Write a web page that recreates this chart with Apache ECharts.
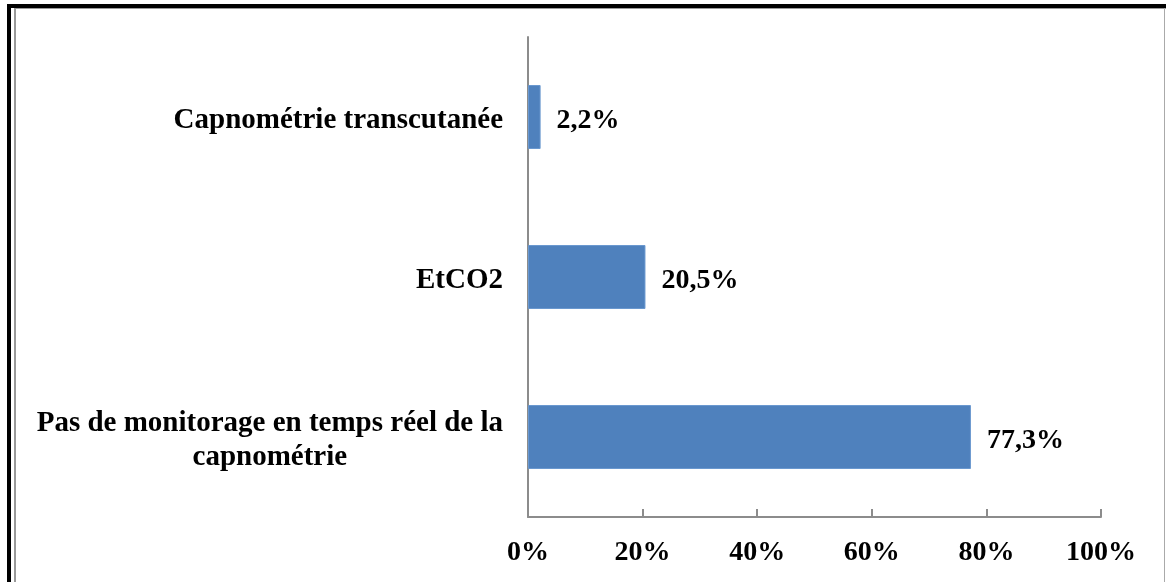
<!DOCTYPE html>
<html><head><meta charset="utf-8">
<script src="https://cdn.jsdelivr.net/npm/echarts@6/dist/echarts.min.js"></script>
<style>html,body{margin:0;padding:0;background:#fff}#c{width:1166px;height:582px}</style>
</head><body><div id="c"></div>
<script>
const categories = ['Pas de monitorage en temps réel de la\ncapnométrie', 'EtCO2', 'Capnométrie transcutanée'];
const values = [77.3, 20.5, 2.2];
const valueLabels = ['77,3%', '20,5%', '2,2%'];
const xTicks = [0, 20, 40, 60, 80, 100];

const chart = echarts.init(document.getElementById('c'), null, {renderer: 'canvas'});
const font = 'Liberation Serif';
chart.setOption({
  animation: false,
  backgroundColor: '#fff',
  grid: {left: 528, right: 65, top: 37, bottom: 65, containLabel: false},
  xAxis: {
    type: 'value', min: 0, max: 100, interval: 20,
    axisLine: {show: true, lineStyle: {color: '#8c8c8c', width: 2}},
    axisTick: {show: true, inside: true, length: 8, lineStyle: {color: '#8c8c8c', width: 2}},
    splitLine: {show: false},
    axisLabel: {formatter: v => xTicks.includes(v) ? v + '%' : '', fontFamily: font, fontWeight: 'bold', fontSize: 28, color: '#000', margin: 22}
  },
  yAxis: {
    type: 'category', data: categories,
    axisLine: {show: true, lineStyle: {color: '#8c8c8c', width: 2}},
    axisTick: {show: false},
    axisLabel: {fontFamily: font, fontWeight: 'bold', fontSize: 29, color: '#000', margin: 25, align: 'right',
      padding: [7, 0, 0, 0],
      formatter: v => v.split('\n').map(s => '{c|' + s + '}').join('\n'),
      rich: {c: {fontFamily: font, fontWeight: 'bold', fontSize: 29, color: '#000', align: 'center', lineHeight: 34}}}
  },
  series: [{
    type: 'bar', data: values, barWidth: 64,
    itemStyle: {color: '#4F81BD', borderColor: '#6a98cf', borderWidth: 1},
    label: {show: true, position: 'right', distance: 16, offset: [0, 4], formatter: p => valueLabels[p.dataIndex],
      fontFamily: font, fontWeight: 'bold', fontSize: 28, color: '#000'}
  }],
  graphic: [
    {type: 'rect', shape: {x: 7, y: 4, width: 1160, height: 4}, style: {fill: '#000'}, silent: true},
    {type: 'rect', shape: {x: 7, y: 4, width: 4, height: 580}, style: {fill: '#000'}, silent: true},
    {type: 'rect', shape: {x: 14, y: 8, width: 1152, height: 1}, style: {fill: '#999'}, silent: true},
    {type: 'rect', shape: {x: 14, y: 8, width: 2, height: 580}, style: {fill: '#999'}, silent: true},
    {type: 'rect', shape: {x: 1164, y: 8, width: 1, height: 580}, style: {fill: '#aaa'}, silent: true}
  ]
});
</script></body></html>
